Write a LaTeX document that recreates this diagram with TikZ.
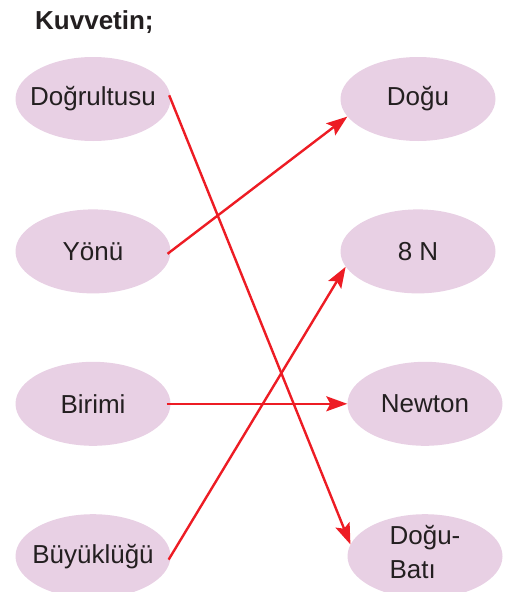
\documentclass[tikz,border=0pt]{standalone}
\usepackage{fontspec}
\setmainfont{Liberation Sans}
\usetikzlibrary{positioning,arrows.meta,shapes.geometric}

\definecolor{ovalfill}{RGB}{232,208,228}
\definecolor{okrenk}{RGB}{237,28,36}
\definecolor{yazi}{RGB}{35,31,32}

\begin{document}
\begin{tikzpicture}[
    x=1pt, y=-1pt,
    node distance=68pt,
    metin/.style={
        text=yazi,
        font=\fontsize{26}{34}\selectfont,
        inner sep=0pt,
        align=left
    },
    ovalbos/.style={
        ellipse,
        fill=ovalfill,
        minimum width=155pt,
        minimum height=84pt,
        inner sep=0pt
    },
    oval/.style={
        ovalbos,
        label={[metin]center:#1}
    },
    ok/.style={
        okrenk,
        line width=2.4pt,
        shorten <=-4pt,
        -{Stealth[length=21pt,width=15pt,inset=4pt]}
    }
]
\useasboundingbox (0,0) rectangle (510,592);

\node[metin, font=\fontsize{26}{35}\selectfont\bfseries, anchor=base west] (baslik) at (35,29) {Kuvvetin;};

% sol sutun
\node[oval=Doğrultusu] (dogrultusu) at (93,99) {};
\node[oval=Yönü, below=of dogrultusu] (yonu) {};
\node[oval=Birimi, below=of yonu] (birimi) {};
\node[oval=Büyüklüğü, below=of birimi] (buyuklugu) {};

% sag sutun
\node[oval=Doğu] (dogu) at (418,99) {};
\node[oval=8 N, below=of dogu] (sekizn) {};
\node[oval=Newton, below=of sekizn, xshift=7pt] (newton) {};
\node[ovalbos, below=of newton, label={[metin, yshift=4pt]center:Doğu-\\Batı}] (dogubati) {};

\draw[ok] (dogrultusu.east) -- (dogubati.171);
\draw[ok] (yonu.east) -- (dogu.194);
\draw[ok] (birimi.east) -- (newton.west);
\draw[ok] (buyuklugu.east) -- (sekizn.192);

\end{tikzpicture}
\end{document}
